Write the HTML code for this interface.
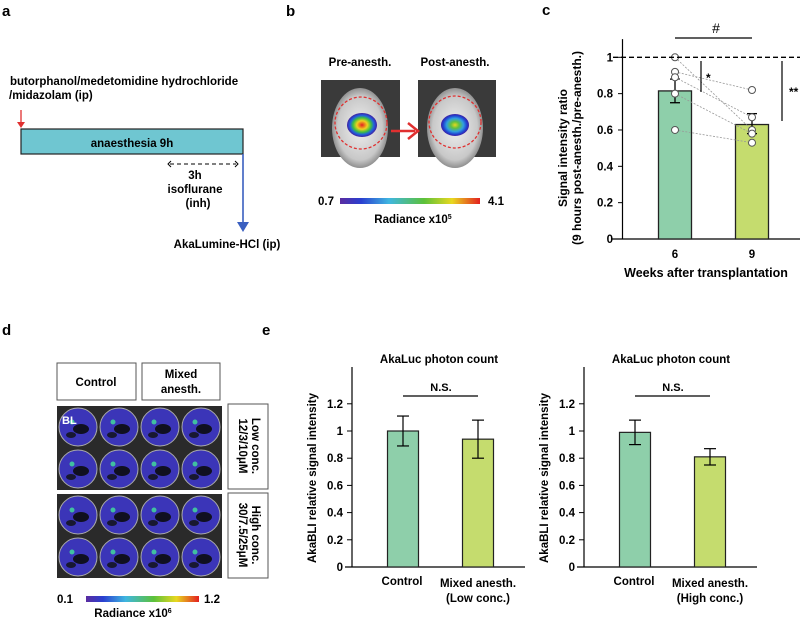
<!DOCTYPE html>
<html><head><meta charset="utf-8"><style>
body{margin:0;background:#fff}
svg{display:block;font-family:"Liberation Sans",Arial,sans-serif;font-weight:bold}
</style></head><body>
<svg id="fig" width="800" height="618" viewBox="0 0 800 618" xmlns="http://www.w3.org/2000/svg">
<defs>
<linearGradient id="rad" x1="0" x2="1"><stop offset="0" stop-color="#5a2ca0"/><stop offset="0.15" stop-color="#2a3fd0"/><stop offset="0.35" stop-color="#3fb6e0"/><stop offset="0.6" stop-color="#5cc13a"/><stop offset="0.8" stop-color="#e8d820"/><stop offset="1" stop-color="#e32020"/></linearGradient>
<radialGradient id="blob"><stop offset="0" stop-color="#e32020"/><stop offset="0.35" stop-color="#f0d020"/><stop offset="0.6" stop-color="#40c040"/><stop offset="0.8" stop-color="#2060e0"/><stop offset="1" stop-color="#4020a0"/></radialGradient>
<radialGradient id="blob2"><stop offset="0" stop-color="#e8d820"/><stop offset="0.3" stop-color="#60c040"/><stop offset="0.6" stop-color="#30a0e0"/><stop offset="0.85" stop-color="#2040d0"/><stop offset="1" stop-color="#4020a0"/></radialGradient>
<radialGradient id="mouse"><stop offset="0" stop-color="#f0f0f0"/><stop offset="0.8" stop-color="#c8c8c8"/><stop offset="1" stop-color="#909090"/></radialGradient>
</defs>

<!-- Panel a -->
<g>
<text x="2" y="16" font-size="15">a</text>
<text x="10" y="85" font-size="11.5">butorphanol/medetomidine hydrochloride</text>
<text x="9" y="99" font-size="11.5">/midazolam (ip)</text>
<line x1="21" y1="110" x2="21" y2="124" stroke="#e03030" stroke-width="1.3"/>
<polygon points="17,122 25,122 21,128" fill="#e03030"/>
<rect x="21" y="129" width="222" height="25" fill="#6fc6d1" stroke="#222" stroke-width="1.2"/>
<text x="132" y="147" font-size="11.5" text-anchor="middle">anaesthesia 9h</text>
<line x1="170" y1="164" x2="236" y2="164" stroke="#000" stroke-dasharray="4,3"/>
<path d="M171,161 L168,164 L171,167 M235,161 L238,164 L235,167" fill="none" stroke="#000"/>
<text x="195" y="179" font-size="11.5" text-anchor="middle">3h</text>
<text x="195" y="193" font-size="11.5" text-anchor="middle">isoflurane</text>
<text x="198" y="207" font-size="11.5" text-anchor="middle">(inh)</text>
<line x1="243" y1="154" x2="243" y2="224" stroke="#3a5fc0" stroke-width="1.6"/>
<polygon points="237,222 249,222 243,232" fill="#3a5fc0"/>
<text x="227" y="248" font-size="11.5" text-anchor="middle">AkaLumine-HCl (ip)</text>
</g>

<!-- Panel b -->
<g>
<text x="286" y="16" font-size="15">b</text>
<text x="360" y="66" font-size="11.5" text-anchor="middle">Pre-anesth.</text>
<text x="455" y="66" font-size="11.5" text-anchor="middle">Post-anesth.</text>
<g>
<rect x="321" y="80" width="79" height="77" fill="#3a3a3a"/>
<ellipse cx="360" cy="128" rx="28" ry="40" fill="url(#mouse)"/>
<ellipse cx="362" cy="125" rx="15" ry="12" fill="url(#blob)"/>
<circle cx="361" cy="123" r="26" fill="none" stroke="#e03030" stroke-width="1.3" stroke-dasharray="3,2"/>
</g>
<g>
<rect x="418" y="80" width="78" height="77" fill="#3a3a3a"/>
<ellipse cx="455" cy="128" rx="28" ry="40" fill="url(#mouse)"/>
<ellipse cx="455" cy="125" rx="14" ry="11" fill="url(#blob2)"/>
<circle cx="455" cy="122" r="26" fill="none" stroke="#e03030" stroke-width="1.3" stroke-dasharray="3,2"/>
</g>
<line x1="391" y1="131" x2="415" y2="131" stroke="#e03030" stroke-width="2.5"/>
<path d="M408,123 L418,131 L408,139" fill="none" stroke="#e03030" stroke-width="2.5"/>
<rect x="340" y="198" width="140" height="6" fill="url(#rad)"/>
<text x="318" y="205" font-size="11.5">0.7</text>
<text x="488" y="205" font-size="11.5">4.1</text>
<text x="413" y="223" font-size="11.5" text-anchor="middle">Radiance x10<tspan font-size="7" dy="-4">5</tspan></text>
</g>

<!-- Panel c -->
<g id="panelC">
<text x="542" y="15" font-size="15">c</text>
</g>

<!-- Panel d -->
<g id="panelD">
<text x="2" y="335" font-size="15">d</text>
<rect x="57" y="363" width="79" height="37" fill="#fff" stroke="#555"/>
<text x="96" y="386" font-size="11.5" text-anchor="middle">Control</text>
<rect x="142" y="363" width="78" height="37" fill="#fff" stroke="#555"/>
<text x="181" y="378" font-size="11.5" text-anchor="middle">Mixed</text>
<text x="181" y="393" font-size="11.5" text-anchor="middle">anesth.</text>
<rect x="57" y="406" width="165" height="84" fill="#2a2a2a"/>
<rect x="57" y="494" width="165" height="84" fill="#2a2a2a"/>
<rect x="228" y="404" width="40" height="85" fill="#fff" stroke="#555"/>
<text transform="translate(252,446) rotate(90)" font-size="11.5" text-anchor="middle">Low conc.</text>
<text transform="translate(239,446) rotate(90)" font-size="11.5" text-anchor="middle">12/3/10μM</text>
<rect x="228" y="493" width="40" height="85" fill="#fff" stroke="#555"/>
<text transform="translate(252,535) rotate(90)" font-size="11.5" text-anchor="middle">High conc.</text>
<text transform="translate(239,535) rotate(90)" font-size="11.5" text-anchor="middle">30/7.5/25μM</text>
<rect x="86" y="596" width="113" height="6" fill="url(#rad)"/>
<text x="57" y="603" font-size="11.5">0.1</text>
<text x="204" y="603" font-size="11.5">1.2</text>
<text x="133" y="617" font-size="11.5" text-anchor="middle">Radiance x10<tspan font-size="7" dy="-4">6</tspan></text>
</g>

<!-- Panel e -->
<g id="panelE">
<text x="262" y="335" font-size="15">e</text>
</g>
</svg>
<script>
const NS="http://www.w3.org/2000/svg";
function mk(parent,tag,attrs,txt){const e=document.createElementNS(NS,tag);for(const k in attrs)e.setAttribute(k,attrs[k]);if(txt!==undefined)e.textContent=txt;parent.appendChild(e);return e;}

// ---- Panel d wells ----
const D=document.getElementById('panelD');
const plateTops=[406,494];
for(const pt of plateTops){for(let r=0;r<2;r++)for(let c=0;c<4;c++){
  const cx=78+c*41, cy=pt+21+r*42;
  const w=mk(D,'circle',{cx:cx,cy:cy,r:19,fill:'#3b35b8',stroke:'#aaa','stroke-width':1});
  
  
  mk(D,'ellipse',{cx:cx+3,cy:cy+2,rx:8,ry:5,fill:'#101020'});
  mk(D,'ellipse',{cx:cx-7,cy:cy+8,rx:5,ry:3,fill:'#181830'});
  mk(D,'circle',{cx:cx-6,cy:cy-5,r:2.5,fill:'#40c0a0'});
}}
const bl=mk(D,'text',{x:62,y:424,'font-size':11,fill:'#fff'},'BL');



// ---- Panel c data ----
const cCategories=['6','9'];
const cMeans=[0.815,0.63];
const cErrHi=[0.88,0.69];
const cErrLo=[0.75,0.58];
const cPoints6=[1.0,0.92,0.89,0.80,0.60];
const cPoints9=[0.60,0.82,0.67,0.58,0.53];
const cTicks=[0,0.2,0.4,0.6,0.8,1];
const cColors=['#8ecfaa','#c5dc6e'];

const C=document.getElementById('panelC');
const cy0=239, cyScale=181.7;
const cY=v=>cy0-v*cyScale;
const cX=i=>675+i*77;
const cBarW=33;
mk(C,'line',{x1:622.5,y1:cY(1.1),x2:622.5,y2:cy0,stroke:'#000','stroke-width':1.2});
mk(C,'line',{x1:612,y1:cy0,x2:800,y2:cy0,stroke:'#000','stroke-width':1.2});
cTicks.forEach(t=>{
  mk(C,'line',{x1:618,y1:cY(t),x2:622.5,y2:cY(t),stroke:'#000'});
  const tl=mk(C,'text',{x:613,y:cY(t)+4,'font-size':11.5,'text-anchor':'end'},String(t));
  
  
});
cMeans.forEach((v,i)=>{
  const b=mk(C,'rect',{x:cX(i)-cBarW/2,y:cY(v),width:cBarW,height:cy0-cY(v),fill:cColors[i],stroke:'#222','stroke-width':1.3});
  
  
  mk(C,'line',{x1:cX(i),y1:cY(cErrHi[i]),x2:cX(i),y2:cY(cErrLo[i]),stroke:'#000','stroke-width':1.3});
  mk(C,'line',{x1:cX(i)-5,y1:cY(cErrHi[i]),x2:cX(i)+5,y2:cY(cErrHi[i]),stroke:'#000','stroke-width':1.3});
  mk(C,'line',{x1:cX(i)-5,y1:cY(cErrLo[i]),x2:cX(i)+5,y2:cY(cErrLo[i]),stroke:'#000','stroke-width':1.3});
  const xl=mk(C,'text',{x:cX(i),y:258,'font-size':11.5,'text-anchor':'middle'},cCategories[i]);
  
  
});
cPoints6.forEach((v,k)=>{
  mk(C,'line',{x1:cX(0),y1:cY(v),x2:cX(1),y2:cY(cPoints9[k]),stroke:'#999','stroke-width':0.8,'stroke-dasharray':'2,1.5'});
});
cPoints6.forEach(v=>{const p=mk(C,'circle',{cx:cX(0),cy:cY(v),r:3.5,fill:'#fff',stroke:'#555'});
  
  });
cPoints9.forEach(v=>{const p=mk(C,'circle',{cx:cX(1),cy:cY(v),r:3.5,fill:'#fff',stroke:'#555'});
  
  });
const ref=mk(C,'line',{x1:613,y1:cY(1),x2:800,y2:cY(1),stroke:'#000','stroke-width':1.3,'stroke-dasharray':'5,3'});


mk(C,'line',{x1:cX(0),y1:38,x2:cX(1),y2:38,stroke:'#000','stroke-width':1.2});
mk(C,'text',{x:716,y:33,'font-size':14,'text-anchor':'middle','font-weight':'normal'},'#');
mk(C,'line',{x1:701,y1:61,x2:701,y2:92,stroke:'#000','stroke-width':1.2});
mk(C,'text',{x:706,y:82,'font-size':12},'*');
mk(C,'line',{x1:782,y1:61,x2:782,y2:121,stroke:'#000','stroke-width':1.2});
mk(C,'text',{x:789,y:96,'font-size':12},'**');
const cxt=mk(C,'text',{x:706,y:277,'font-size':12.5,'text-anchor':'middle'},'Weeks after transplantation');


const cyt1=mk(C,'text',{transform:'translate(567,148) rotate(-90)','font-size':12,'text-anchor':'middle'},'Signal intensity ratio');


const cyt2=mk(C,'text',{transform:'translate(581,148) rotate(-90)','font-size':12,'text-anchor':'middle'},'(9 hours post-anesth./pre-anesth.)');



// ---- Panel e data ----
const eCategories=['Control','Mixed anesth.'];
const eSub=['(Low conc.)','(High conc.)'];
const eMeansLow=[1.0,0.94];
const eErrLow=[0.11,0.14];
const eMeansHigh=[0.99,0.81];
const eErrHigh=[0.09,0.06];
const eTicks=[0,0.2,0.4,0.6,0.8,1,1.2];
const eTickLabels=['0','0.2','0.4','0.6','0.8','1','1.2'];

const E=document.getElementById('panelE');
function eChart(ox,means,errs,sub,id){
  const y0=567, sc=136;
  const Y=v=>y0-v*sc;
  const X=i=>ox+51+i*75;
  const bw=31;
  mk(E,'line',{x1:ox,y1:367,x2:ox,y2:y0,stroke:'#000','stroke-width':1.2});
  mk(E,'line',{x1:ox-7,y1:y0,x2:ox+173,y2:y0,stroke:'#000','stroke-width':1.2});
  eTicks.forEach((t,k)=>{
    mk(E,'line',{x1:ox-5,y1:Y(t),x2:ox,y2:Y(t),stroke:'#000'});
    const tl=mk(E,'text',{x:ox-9,y:Y(t)+4,'font-size':11.5,'text-anchor':'end'},eTickLabels[k]);
    
    
  });
  means.forEach((v,i)=>{
    const b=mk(E,'rect',{x:X(i)-bw/2,y:Y(v),width:bw,height:y0-Y(v),fill:i?'#c5dc6e':'#8ecfaa',stroke:'#222','stroke-width':1.2});
    
    
    const hi=Y(v+errs[i]), lo=Y(v-errs[i]);
    mk(E,'line',{x1:X(i),y1:hi,x2:X(i),y2:lo,stroke:'#000','stroke-width':1.2});
    mk(E,'line',{x1:X(i)-6,y1:hi,x2:X(i)+6,y2:hi,stroke:'#000','stroke-width':1.2});
    mk(E,'line',{x1:X(i)-6,y1:lo,x2:X(i)+6,y2:lo,stroke:'#000','stroke-width':1.2});
  });
  const xl0=mk(E,'text',{x:X(0)-1,y:585,'font-size':11.5,'text-anchor':'middle'},eCategories[0]);
  
  
  const xl1=mk(E,'text',{x:X(1),y:587,'font-size':11.5,'text-anchor':'middle'},eCategories[1]);
  
  
  mk(E,'text',{x:X(1),y:602,'font-size':11.5,'text-anchor':'middle'},sub);
  const tt=mk(E,'text',{x:ox+87,y:363,'font-size':11.5,'text-anchor':'middle'},'AkaLuc photon count');
  
  
  mk(E,'line',{x1:X(0),y1:396,x2:X(1),y2:396,stroke:'#000','stroke-width':1.2});
  mk(E,'text',{x:X(0)+38,y:391,'font-size':11,'text-anchor':'middle'},'N.S.');
  const yt=mk(E,'text',{transform:'translate('+(ox-36)+',478) rotate(-90)','font-size':11.5,'text-anchor':'middle'},'AkaBLI relative signal intensity');
  
  
}
eChart(352,eMeansLow,eErrLow,eSub[0],'e-low');
eChart(584,eMeansHigh,eErrHigh,eSub[1],'e-high');
</script>
</body></html>
